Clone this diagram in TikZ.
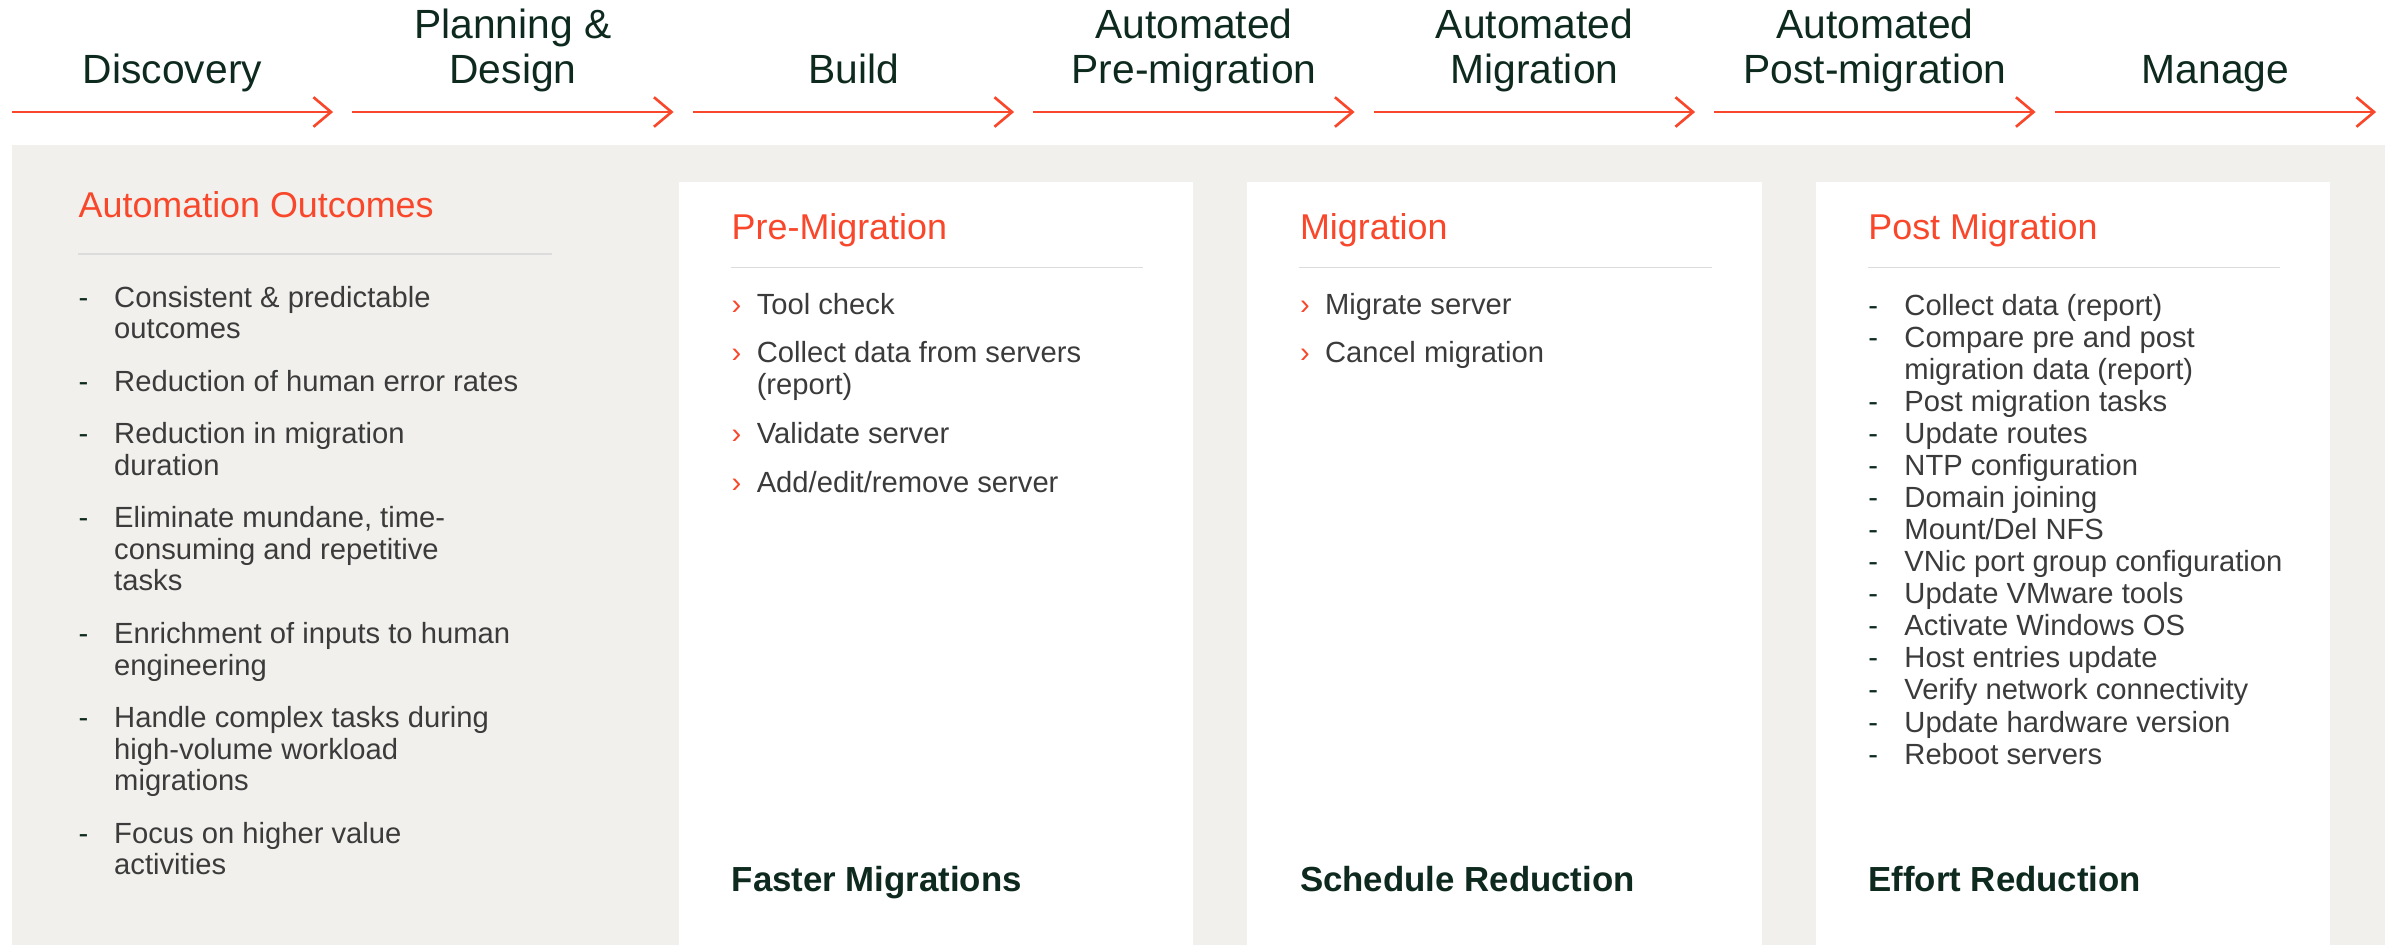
\documentclass[tikz,border=0pt]{standalone}
\usepackage{fontspec}
\setmainfont{Liberation Sans}
\usepackage{tikz}
\usetikzlibrary{arrows.meta, positioning}

\definecolor{accent}{HTML}{F9472B}
\definecolor{ink}{HTML}{0E2A1E}
\definecolor{bodytext}{HTML}{3B3B3B}
\definecolor{panelgray}{HTML}{F1F0ED}
\definecolor{rulegray}{HTML}{DCDCDC}

\newcommand{\dashmark}{\textcolor{ink}{-}}
\newcommand{\chevmark}{\textcolor{accent}{›}}

\begin{document}
\begin{tikzpicture}[x=0.01cm, y=-0.01cm,
                stage/.style={font=\fontsize{11.6}{12.8}\selectfont, text=ink, align=center,
                              inner sep=0pt, outer sep=0pt, minimum width=3.21cm, anchor=south},
                flow/.style={-{Straight Barb[length=5pt, width=8.4pt]}, line width=0.75pt, accent},
                card/.style={fill=white, inner sep=0pt, outer sep=0pt, minimum width=5.14cm,
                             minimum height=7.63cm, anchor=north west},
                heading/.style={font=\fontsize{10.2}{12}\selectfont, text=accent,
                                inner sep=0pt, anchor=base west},
                divider/.style={rulegray, line width=0.5pt},
                tasklist/.style={font=\fontsize{8.3}{9.05}\selectfont, text=bodytext,
                                 inner sep=0pt, anchor=base west},
                result/.style={font=\fontsize{9.9}{12}\selectfont\bfseries, text=ink,
                               inner sep=0pt, anchor=base west}]
                \useasboundingbox (0,0) rectangle (2397,945);

                % Stages - start with Discovery as anchor
                \node[stage] (disc) at (172.5,97.5) {Discovery\strut};
                \node[stage, right=0.193cm of disc.south east, anchor=south west] (plan) {Planning \&\\Design\strut};
                \node[stage, right=0.193cm of plan.south east, anchor=south west] (build) {Build\strut};
                \node[stage, right=0.193cm of build.south east, anchor=south west] (prem) {Automated\\Pre-migration\strut};
                \node[stage, right=0.193cm of prem.south east, anchor=south west] (migr) {Automated\\Migration\strut};
                \node[stage, right=0.193cm of migr.south east, anchor=south west] (postm) {Automated\\Post-migration\strut};
                \node[stage, right=0.193cm of postm.south east, anchor=south west] (mng) {Manage\strut};

                % Arrows - one under each stage
                \draw[flow] ([yshift=-0.145cm]disc.south west) -- ([yshift=-0.145cm]disc.south east);
                \draw[flow] ([yshift=-0.145cm]plan.south west) -- ([yshift=-0.145cm]plan.south east);
                \draw[flow] ([yshift=-0.145cm]build.south west) -- ([yshift=-0.145cm]build.south east);
                \draw[flow] ([yshift=-0.145cm]prem.south west) -- ([yshift=-0.145cm]prem.south east);
                \draw[flow] ([yshift=-0.145cm]migr.south west) -- ([yshift=-0.145cm]migr.south east);
                \draw[flow] ([yshift=-0.145cm]postm.south west) -- ([yshift=-0.145cm]postm.south east);
                \draw[flow] ([yshift=-0.145cm]mng.south west) -- ([yshift=-0.145cm]mng.south east);

                % Grey panel
                \fill[panelgray] (12,145) rectangle (2385,945);

                % Outcomes column
                \node[heading] (outhead) at (78,217) {Automation Outcomes};
                \draw[divider] ([yshift=-0.37cm]outhead.base west) -- ++(4.74cm,0);
                \node[tasklist] (outlist) at (78,307) {%
                    \begin{tabular}[t]{@{}p{0.355cm}@{}l@{}}
                    \dashmark & Consistent \& predictable\\
                              & outcomes\\[5.8pt]
                    \dashmark & Reduction of human error rates\\[5.8pt]
                    \dashmark & Reduction in migration\\
                              & duration\\[5.8pt]
                    \dashmark & Eliminate mundane, time-\\
                              & consuming and repetitive\\
                              & tasks\\[5.8pt]
                    \dashmark & Enrichment of inputs to human\\
                              & engineering\\[5.8pt]
                    \dashmark & Handle complex tasks during\\
                              & high-volume workload\\
                              & migrations\\[5.8pt]
                    \dashmark & Focus on higher value\\
                              & activities
                    \end{tabular}};

                % Cards
                \node[card] (pre) at (679,182) {};
                \node[card, right=0.54cm of pre.north east, anchor=north west] (mig) {};
                \node[card, right=0.54cm of mig.north east, anchor=north west] (post) {};

                % Card headings and rules
                \node[heading] (prehead) at ([xshift=0.52cm, yshift=-0.575cm]pre.north west) {Pre-Migration};
                \node[heading] (mighead) at ([xshift=0.52cm, yshift=-0.575cm]mig.north west) {Migration};
                \node[heading] (posthead) at ([xshift=0.52cm, yshift=-0.575cm]post.north west) {Post Migration};
                \draw[divider] ([yshift=-0.28cm]prehead.base west) -- ++(4.12cm,0);
                \draw[divider] ([yshift=-0.28cm]mighead.base west) -- ++(4.12cm,0);
                \draw[divider] ([yshift=-0.28cm]posthead.base west) -- ++(4.12cm,0);

                % Card task lists
                \node[tasklist] (prelist) at ([xshift=0.52cm, yshift=-1.32cm]pre.north west) {%
                    \begin{tabular}[t]{@{}p{0.25cm}@{}l@{}}
                    \chevmark & Tool check\\[4.8pt]
                    \chevmark & Collect data from servers\\
                              & (report)\\[4.8pt]
                    \chevmark & Validate server\\[4.8pt]
                    \chevmark & Add/edit/remove server
                    \end{tabular}};
                \node[tasklist] (miglist) at ([xshift=0.52cm, yshift=-1.32cm]mig.north west) {%
                    \begin{tabular}[t]{@{}p{0.25cm}@{}l@{}}
                    \chevmark & Migrate server\\[4.8pt]
                    \chevmark & Cancel migration
                    \end{tabular}};
                \node[tasklist, font=\fontsize{8.3}{9.12}\selectfont] (postlist) at ([xshift=0.52cm, yshift=-1.33cm]post.north west) {%
                    \begin{tabular}[t]{@{}p{0.36cm}@{}l@{}}
                    \dashmark & Collect data (report)\\
                    \dashmark & Compare pre and post\\
                              & migration data (report)\\
                    \dashmark & Post migration tasks\\
                    \dashmark & Update routes\\
                    \dashmark & NTP configuration\\
                    \dashmark & Domain joining\\
                    \dashmark & Mount/Del NFS\\
                    \dashmark & VNic port group configuration\\
                    \dashmark & Update VMware tools\\
                    \dashmark & Activate Windows OS\\
                    \dashmark & Host entries update\\
                    \dashmark & Verify network connectivity\\
                    \dashmark & Update hardware version\\
                    \dashmark & Reboot servers
                    \end{tabular}};

                % Results at the foot of each card
                \node[result] (prefast) at ([xshift=0.52cm, yshift=0.54cm]pre.south west) {Faster Migrations};
                \node[result] (migsched) at ([xshift=0.52cm, yshift=0.54cm]mig.south west) {Schedule Reduction};
                \node[result] (posteffort) at ([xshift=0.52cm, yshift=0.54cm]post.south west) {Effort Reduction};
\end{tikzpicture}
\end{document}
